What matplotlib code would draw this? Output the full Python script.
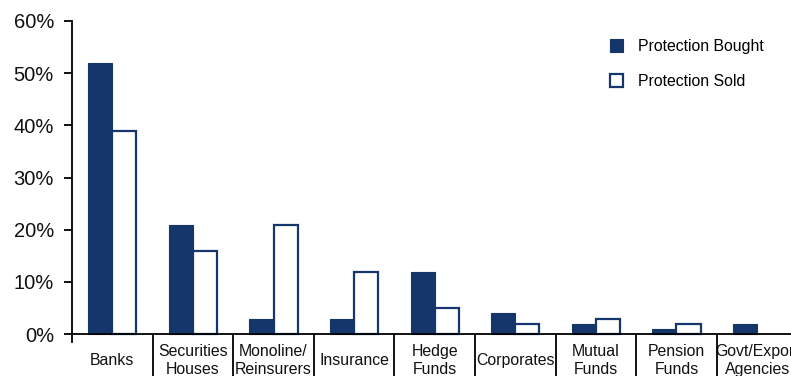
import matplotlib
matplotlib.use("Agg")
import matplotlib.pyplot as plt
from matplotlib.patches import Patch
import numpy as np

plt.rcParams['font.family'] = ['Liberation Sans', 'DejaVu Sans']

categories = ["Banks", "Securities\nHouses", "Monoline/\nReinsurers", "Insurance",
              "Hedge\nFunds", "Corporates", "Mutual\nFunds", "Pension\nFunds",
              "Govt/Export\nAgencies"]
protection_bought = [52, 21, 3, 3, 12, 4, 2, 1, 2]
protection_sold = [39, 16, 21, 12, 5, 2, 3, 2, 0]
y_ticks = [0, 10, 20, 30, 40, 50, 60]

navy = "#15366A"
W, H = 791, 376
fig = plt.figure(figsize=(W / 100, H / 100), dpi=100)
ax = fig.add_axes([72 / W, 34 / H, 719 / W, 321 / H])

x = np.arange(len(categories))
bw = 0.30
ax.bar(x - bw / 2, protection_bought, width=bw, color=navy, edgecolor=navy,
       linewidth=0.8, label="Protection Bought", zorder=2)
sold_vals = np.array(protection_sold, dtype=float)
mask = sold_vals > 0
ax.bar(x[mask] + bw / 2, sold_vals[mask], width=bw, color="white", edgecolor=navy,
       linewidth=1.6, label="Protection Sold", zorder=2)

ax.set_xlim(-0.5, -0.5 + 719 / 80.6)
ax.set_ylim(-1.5, 60)

for s in ("top", "right"):
    ax.spines[s].set_visible(False)
ax.spines["bottom"].set_position(("data", 0))
ax.spines["left"].set_linewidth(1.3)
ax.spines["bottom"].set_linewidth(1.3)

ax.set_yticks(y_ticks)
ax.set_yticklabels([f"{v}%" for v in y_ticks])
ax.tick_params(axis="y", direction="out", length=6, width=1.3, pad=7,
               labelsize=14.5, colors="black", labelcolor="#111111")

ax.set_xticks(x)
ax.set_xticklabels(categories)
ax.set_xticks(np.arange(0.5, len(categories) - 0.5, 1.0), minor=True)
ax.tick_params(axis="x", which="major", length=0, pad=19, labelsize=11.4,
               labelcolor="#111111")
ax.tick_params(axis="x", which="minor", direction="out", length=40, width=1.3,
               colors="black")
for t in ax.get_xticklabels():
    t.set_va("center")
    t.set_linespacing(1.25)

handles = [Patch(facecolor=navy, edgecolor=navy, linewidth=0.8),
           Patch(facecolor="white", edgecolor=navy, linewidth=1.6)]
fig.legend(handles, ["Protection Bought", "Protection Sold"],
           loc="upper left", bbox_to_anchor=(610 / W, 1 - 39 / H),
           frameon=False, fontsize=11.4, handlelength=0.85, handleheight=0.85,
           handletextpad=0.9, labelspacing=1.25, borderpad=0, borderaxespad=0)

fig.savefig("out.png", dpi=100)
